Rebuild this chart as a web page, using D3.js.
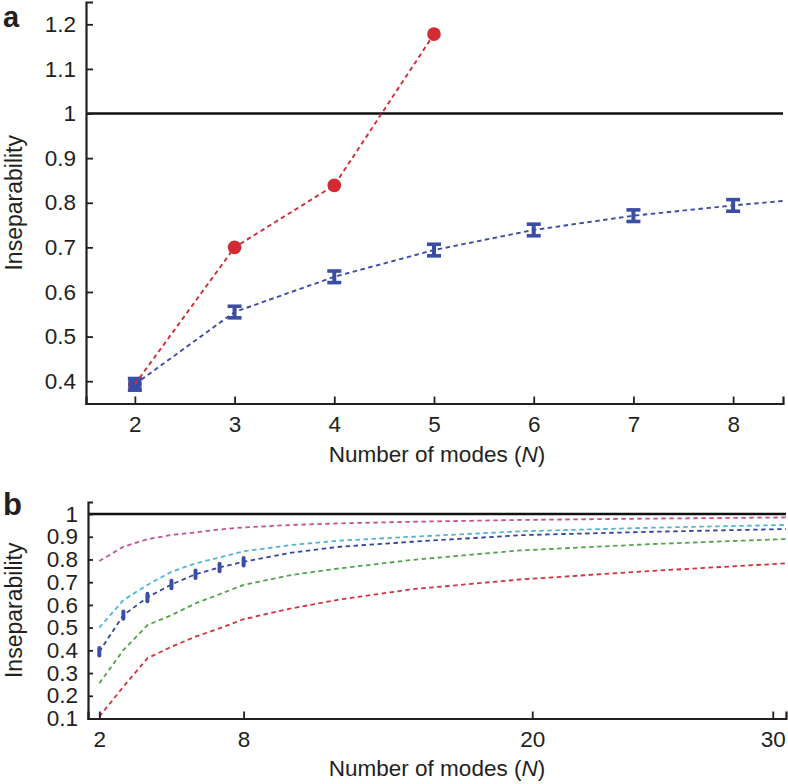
<!DOCTYPE html>
<html><head><meta charset="utf-8">
<script src="https://cdn.jsdelivr.net/npm/d3@7"></script>
<style>
html,body{margin:0;padding:0;background:#fff;}
svg text{font-family:"Liberation Sans",Arial,Helvetica,sans-serif;fill:#231f20;}
</style></head>
<body><svg id="c" width="788" height="784"></svg>
<script>
// ---------- Data: panel a ----------
const aModes = [2, 3, 4, 5, 6, 7, 8];
const aRedModes = [2, 3, 4, 5];
const aRedValues = [0.393, 0.700, 0.839, 1.178];
const aBlueValues = [0.393, 0.555, 0.634, 0.694, 0.739, 0.771, 0.794];
const aBlueErr = [0.013, 0.013, 0.013, 0.013, 0.013, 0.013, 0.013];
const aBlueLineModes = [2, 3, 4, 5, 6, 7, 8, 8.5];
const aBlueLineValues = [0.393, 0.555, 0.634, 0.694, 0.739, 0.771, 0.794, 0.804];
const aXTicks = [2, 3, 4, 5, 6, 7, 8];
const aYTicks = [0.4, 0.5, 0.6, 0.7, 0.8, 0.9, 1.0, 1.1, 1.2];

// ---------- Data: panel b ----------
const bModes = [2, 3, 4, 5, 6, 7, 8, 10, 12, 15, 19.5, 25, 30.55];
const bMagenta = [0.793, 0.856, 0.889, 0.908, 0.919, 0.932, 0.941, 0.952, 0.959, 0.966, 0.974, 0.980, 0.985];
const bCyan    = [0.500, 0.621, 0.688, 0.746, 0.783, 0.809, 0.836, 0.864, 0.883, 0.900, 0.924, 0.940, 0.952];
const bBlue    = [0.394, 0.555, 0.633, 0.690, 0.735, 0.765, 0.790, 0.830, 0.856, 0.878, 0.907, 0.922, 0.934];
const bGreen   = [0.255, 0.401, 0.511, 0.555, 0.607, 0.647, 0.688, 0.732, 0.761, 0.798, 0.840, 0.868, 0.890];
const bRed     = [0.108, 0.240, 0.365, 0.416, 0.460, 0.497, 0.537, 0.585, 0.624, 0.669, 0.712, 0.750, 0.783];
const bPointModes = [2, 3, 4, 5, 6, 7, 8];
const bPointValues = [0.394, 0.555, 0.633, 0.690, 0.735, 0.765, 0.790];
const bPointErr = [0.012, 0.012, 0.012, 0.012, 0.012, 0.012, 0.012];
const bXTicks = [2, 8, 20, 30];
const bYTicks = [0.1, 0.2, 0.3, 0.4, 0.5, 0.6, 0.7, 0.8, 0.9, 1.0];

const xTitle = "Number of modes (";
const yTitle = "Inseparability";

const COL = {red:"#d42a33", blue:"#3b4ea6", magenta:"#c2559a", cyan:"#4db6d6", bblue:"#35479c", green:"#4ea54a", bred:"#d5303c"};

const svg = d3.select("#c");
const fmt = d => String(+d.toFixed(1));

function axes(g, x, y, xt, yt, xTickLen, yTickLen) {
  const ax = g.append("g").attr("transform", `translate(0,${y.range()[0]})`)
    .call(d3.axisBottom(x).tickValues(xt).tickSize(-xTickLen).tickPadding(13).tickFormat(d => d));
  const ay = g.append("g").attr("transform", `translate(${x.range()[0]},0)`)
    .call(d3.axisLeft(y).tickValues(yt).tickSize(-yTickLen).tickPadding(10).tickFormat(fmt));
  [ax, ay].forEach(a => {
    a.select(".domain").attr("stroke", "#231f20").attr("stroke-width", 2.2);
    a.selectAll(".tick line").attr("stroke", "#231f20").attr("stroke-width", 1.8);
    a.selectAll(".tick text").attr("font-size", 22.5).attr("fill", "#231f20")
      .style("font-family", '"Liberation Sans",Arial,sans-serif');
  });
  return {ax, ay};
}

function titles(g, x, y, xTitleY, yTitleCx) {
  const cx = 437;
  const t = g.append("text").attr("x", cx).attr("y", xTitleY).attr("text-anchor", "middle").attr("font-size", 22.5);
  t.append("tspan").text(xTitle);
  t.append("tspan").attr("font-style", "italic").text("N");
  t.append("tspan").text(")");
  const ym = (y.range()[0] + y.range()[1]) / 2;
  g.append("text").attr("transform", `translate(${yTitleCx},${ym}) rotate(-90)`)
    .attr("text-anchor", "middle").attr("dy", "0.35em").attr("font-size", 23).text(yTitle);
}

// ---------------- Panel a ----------------
const ga = svg.append("g");
const xa = d3.scaleLinear().domain([1.51, 8.5]).range([86, 783]);
const ya = d3.scaleLinear().domain([0.35, 1.25]).range([403.5, 2]);

// reference line at 1
ga.append("line").attr("x1", xa.range()[0]).attr("x2", xa.range()[1])
  .attr("y1", ya(1)).attr("y2", ya(1)).attr("stroke", "#111").attr("stroke-width", 2.4);

// red circles
ga.selectAll("circle.r").data(aRedModes).join("circle")
  .attr("cx", (d) => xa(d)).attr("cy", (d, i) => ya(aRedValues[i])).attr("r", 6.8)
  .attr("fill", COL.red);

// blue error bars (where a red marker coincides, the box is drawn filled)
const eb = ga.selectAll("g.eb").data(aModes).join("g");
eb.filter((d, i) => aRedModes.includes(d) && Math.abs(aRedValues[aRedModes.indexOf(d)] - aBlueValues[i]) < 0.005)
  .append("rect")
  .attr("x", d => xa(d) - 6.5).attr("width", 13)
  .attr("y", d => ya(aBlueValues[aModes.indexOf(d)] + aBlueErr[aModes.indexOf(d)]) - 1.5)
  .attr("height", d => ya(aBlueValues[aModes.indexOf(d)] - aBlueErr[aModes.indexOf(d)]) - ya(aBlueValues[aModes.indexOf(d)] + aBlueErr[aModes.indexOf(d)]) + 3)
  .attr("fill", COL.blue);
eb.append("line").attr("x1", d => xa(d)).attr("x2", d => xa(d))
  .attr("y1", (d, i) => ya(aBlueValues[i] - aBlueErr[i])).attr("y2", (d, i) => ya(aBlueValues[i] + aBlueErr[i]))
  .attr("stroke", COL.blue).attr("stroke-width", 4);
[-1, 1].forEach(s => {
  eb.append("line").attr("x1", d => xa(d) - 7).attr("x2", d => xa(d) + 7)
    .attr("y1", (d, i) => ya(aBlueValues[i] + s * aBlueErr[i])).attr("y2", (d, i) => ya(aBlueValues[i] + s * aBlueErr[i]))
    .attr("stroke", COL.blue).attr("stroke-width", 3.6);
});

// dashed lines
const la = d3.line().x(d => xa(d[0])).y(d => ya(d[1]));
ga.append("path").datum(aBlueLineModes.map((m, i) => [m, aBlueLineValues[i]]))
  .attr("d", la).attr("fill", "none").attr("stroke", COL.blue).attr("stroke-width", 1.9).attr("stroke-dasharray", "4.5,3.5");
ga.append("path").datum(aRedModes.map((m, i) => [m, aRedValues[i]]))
  .attr("d", la).attr("fill", "none").attr("stroke", COL.red).attr("stroke-width", 1.9).attr("stroke-dasharray", "4.5,3.5");

axes(ga, xa, ya, aXTicks, aYTicks, 7, 7);
titles(ga, xa, ya, 462, 14);
svg.append("text").attr("x", 3).attr("y", 26.5).attr("font-size", 29).attr("font-weight", "bold").attr("fill", "#231f20").text("a");

// ---------------- Panel b ----------------
const gb = svg.append("g");
const xb = d3.scaleLinear().domain([1.53, 30.55]).range([88, 786]);
const yb = d3.scaleLinear().domain([0.1, 1.053]).range([718.5, 502]);

gb.append("line").attr("x1", xb.range()[0]).attr("x2", xb.range()[1])
  .attr("y1", yb(1)).attr("y2", yb(1)).attr("stroke", "#111").attr("stroke-width", 2.4);

const lb = d3.line().x(d => xb(d[0])).y(d => yb(d[1]));
[[bRed, COL.bred], [bGreen, COL.green], [bBlue, COL.bblue], [bCyan, COL.cyan], [bMagenta, COL.magenta]].forEach(([vals, c]) => {
  gb.append("path").datum(bModes.map((m, i) => [m, vals[i]]))
    .attr("d", lb).attr("fill", "none").attr("stroke", c).attr("stroke-width", 1.8).attr("stroke-dasharray", "4.5,3.5");
});

gb.selectAll("line.pe").data(bPointModes).join("line")
  .attr("x1", d => xb(d)).attr("x2", d => xb(d))
  .attr("y1", (d, i) => yb(bPointValues[i] - bPointErr[i]) + 1).attr("y2", (d, i) => yb(bPointValues[i] + bPointErr[i]) - 1)
  .attr("stroke", COL.blue).attr("stroke-width", 4).attr("stroke-linecap", "round");

axes(gb, xb, yb, bXTicks, bYTicks, 7, 5);
titles(gb, xb, yb, 776, 14);
svg.append("text").attr("x", 3).attr("y", 515).attr("font-size", 31).attr("font-weight", "bold").attr("fill", "#231f20").text("b");
</script>
</body></html>
